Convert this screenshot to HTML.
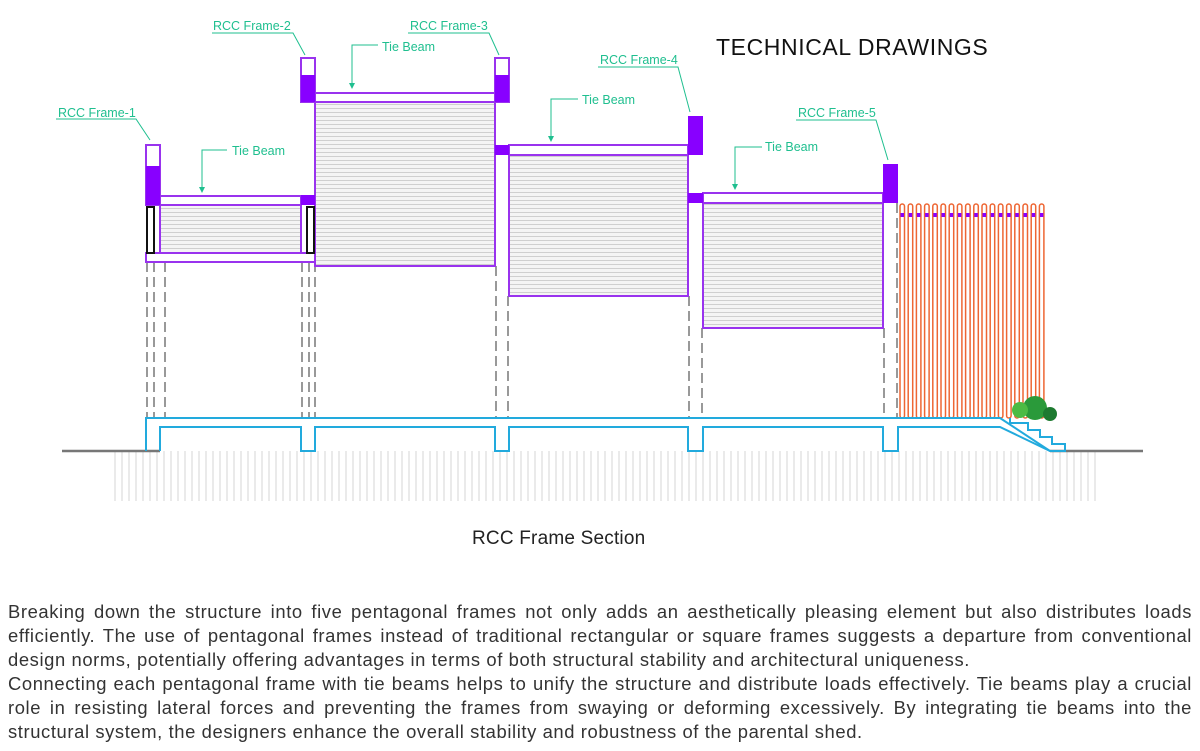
<!DOCTYPE html>
<html><head><style>
body{margin:0;width:1200px;height:751px;background:#fff;overflow:hidden;font-family:"Liberation Sans",sans-serif}
svg{position:absolute;left:0;top:0}
.p{position:absolute;left:8px;top:600px;width:1184px;font-size:18.4px;letter-spacing:0.6px;line-height:24px;color:#333;text-align:justify;margin:0}
</style></head><body>
<svg width="1200" height="600" viewBox="0 0 1200 600">
<defs>
<pattern id="h" width="4" height="4" patternUnits="userSpaceOnUse"><rect width="4" height="4" fill="#f4f4f4"/><line x1="0" y1="0.5" x2="4" y2="0.5" stroke="#cfcfcf" stroke-width="1"/></pattern>
<pattern id="v" width="7" height="10" patternUnits="userSpaceOnUse"><line x1="3" y1="0" x2="3" y2="10" stroke="#d4d4d4" stroke-width="1"/></pattern>
</defs>
<g font-family="Liberation Sans" font-size="12.5" fill="#1fbf8f">
<text x="58" y="117">RCC Frame-1</text><text x="213" y="30">RCC Frame-2</text><text x="410" y="30">RCC Frame-3</text>
<text x="600" y="64">RCC Frame-4</text><text x="798" y="117">RCC Frame-5</text>
<text x="232" y="155">Tie Beam</text><text x="382" y="51">Tie Beam</text><text x="582" y="104">Tie Beam</text><text x="765" y="151">Tie Beam</text>
</g>
<g stroke="#1fbf8f" stroke-width="1" fill="none">
<path d="M56 119H136L150 140"/><path d="M212 33H293L305 55"/><path d="M408 33H489L499 55"/><path d="M598 67H678L690 112"/><path d="M796 120H876L888 160"/>
<path d="M227 150H202V190"/><path d="M378 45H352V86"/><path d="M578 99H551V139"/><path d="M762 147H735V187"/>
</g>
<g fill="#1fbf8f">
<path d="M199 187h6l-3 6z"/><path d="M349 83h6l-3 6z"/><path d="M548 136h6l-3 6z"/><path d="M732 184h6l-3 6z"/>
</g>
<text x="716" y="55" font-family="Liberation Sans" font-size="23" fill="#111" letter-spacing="0.6">TECHNICAL DRAWINGS</text>
<text x="472" y="544" font-family="Liberation Sans" font-size="19" fill="#222" letter-spacing="0.2">RCC Frame Section</text>
<rect x="113" y="451" width="985" height="50" fill="url(#v)"/>
<line x1="62" y1="451" x2="160" y2="451" stroke="#777" stroke-width="2.5"/>
<line x1="1050" y1="451" x2="1143" y2="451" stroke="#777" stroke-width="2.5"/>
<g stroke="#999" stroke-width="2" stroke-dasharray="10,5">
<line x1="147" y1="262" x2="147" y2="418"/><line x1="154" y1="262" x2="154" y2="418"/><line x1="165" y1="262" x2="165" y2="418"/>
<line x1="302" y1="262" x2="302" y2="418"/><line x1="309" y1="262" x2="309" y2="418"/><line x1="315" y1="262" x2="315" y2="418"/>
<line x1="496" y1="266" x2="496" y2="418"/><line x1="508" y1="296" x2="508" y2="418"/>
<line x1="689" y1="296" x2="689" y2="418"/><line x1="702" y1="328" x2="702" y2="418"/>
<line x1="884" y1="328" x2="884" y2="418"/><line x1="897" y1="203" x2="897" y2="418"/>
</g>
<g stroke="#9933ee" stroke-width="2" fill="url(#h)">
<rect x="160" y="205" width="141" height="48"/>
<rect x="315" y="102" width="180" height="164"/>
<rect x="509" y="155" width="179" height="141"/>
<rect x="703" y="203" width="180" height="125"/>
</g>
<g stroke="#9933ee" stroke-width="2" fill="#fff">
<rect x="160" y="196" width="141" height="9"/><rect x="146" y="253" width="169" height="9"/>
<rect x="315" y="93" width="180" height="9"/><rect x="509" y="145" width="179" height="10"/><rect x="703" y="193" width="180" height="10"/>
<rect x="146" y="145" width="14" height="60"/><rect x="301" y="58" width="14" height="44"/><rect x="495" y="58" width="14" height="44"/>
</g>
<g fill="#8800ff">
<rect x="146" y="166" width="14" height="39"/><rect x="301" y="195" width="14" height="10"/>
<rect x="301" y="75" width="14" height="27"/><rect x="495" y="75" width="14" height="27"/><rect x="495" y="145" width="14" height="10"/>
<rect x="688" y="116" width="15" height="39"/><rect x="688" y="193" width="15" height="10"/>
<rect x="883" y="164" width="15" height="39"/>
</g>
<g stroke="#111" stroke-width="2" fill="none"><rect x="147" y="207" width="7" height="46"/><rect x="307" y="207" width="7" height="46"/></g>
<g id="fence" stroke="#ee6633" stroke-width="1.5" fill="none"></g>
<path d="M146 451V418H1000L1050 451" stroke="#22aadd" stroke-width="2" fill="none"/>
<path d="M160 451V427H301V451H315V427H495V451H509V427H688V451H703V427H883V451H898V427H1000L1050 451H1065V444H1052V437H1040V430H1028V423H1010V418" stroke="#22aadd" stroke-width="2" fill="none"/>
<circle cx="1035" cy="408" r="12" fill="#2a9a3a"/><circle cx="1020" cy="410" r="8" fill="#4cbb44"/><circle cx="1050" cy="414" r="7" fill="#1d7a30"/>
</svg>
<script>
var g=document.getElementById('fence'),s='';
for(var i=0;i<18;i++){var x=900+i*8.2;s+='<rect x="'+x+'" y="204" width="4.5" height="214" rx="2.2"/><rect x="'+(x+0.5)+'" y="213" width="3.5" height="4" fill="#8800ff" stroke="none"/>';}
g.innerHTML=s;
</script>
<p class="p">Breaking down the structure into five pentagonal frames not only adds an aesthetically pleasing element but also distributes loads efficiently. The use of pentagonal frames instead of traditional rectangular or square frames suggests a departure from conventional design norms, potentially offering advantages in terms of both structural stability and architectural uniqueness.<br>Connecting each pentagonal frame with tie beams helps to unify the structure and distribute loads effectively. Tie beams play a crucial role in resisting lateral forces and preventing the frames from swaying or deforming excessively. By integrating tie beams into the structural system, the designers enhance the overall stability and robustness of the parental shed.</p>
</body></html>
